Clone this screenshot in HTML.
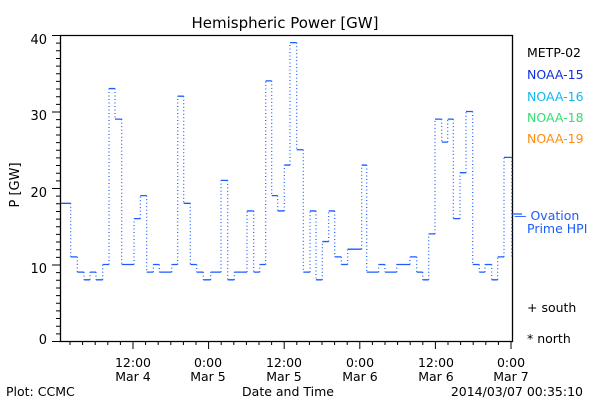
<!DOCTYPE html>
<html><head><style>
body{margin:0;background:#fff;}
svg{display:block;font-family:"DejaVu Sans","Liberation Sans",sans-serif;}
</style></head><body>
<svg width="600" height="400" viewBox="0 0 600 400" xmlns="http://www.w3.org/2000/svg">
<rect width="600" height="400" fill="#fff"/>
<text x="285" y="28" font-size="15" text-anchor="middle" fill="#000">Hemispheric Power [GW]</text>
<path d="M60.5 35.5H512.5V341.5H60.5Z" fill="none" stroke="#000" stroke-width="1.3"/>
<path stroke="#000" stroke-width="1" fill="none" d="M52 341.5H60M56 333.85H60M56 326.2H60M56 318.55H60M56 310.9H60M56 303.25H60M56 295.6H60M56 287.95H60M56 280.3H60M56 272.65H60M52 265H60M56 257.35H60M56 249.7H60M56 242.05H60M56 234.4H60M56 226.75H60M56 219.1H60M56 211.45H60M56 203.8H60M56 196.15H60M52 188.5H60M56 180.85H60M56 173.2H60M56 165.55H60M56 157.9H60M56 150.25H60M56 142.6H60M56 134.95H60M56 127.3H60M56 119.65H60M52 112H60M56 104.35H60M56 96.7H60M56 89.05H60M56 81.4H60M56 73.75H60M56 66.1H60M56 58.45H60M56 50.8H60M56 43.15H60M52 35.5H60"/>
<path stroke="#000" stroke-width="1" fill="none" d="M70 341V345M82.6 341V345M95.2 341V345M107.8 341V345M120.4 341V345M133 341V349M145.6 341V345M158.2 341V345M170.8 341V345M183.4 341V345M196 341V345M208.6 341V349M221.2 341V345M233.8 341V345M246.4 341V345M259 341V345M271.6 341V345M284.2 341V349M296.8 341V345M309.4 341V345M322 341V345M334.6 341V345M347.2 341V345M359.8 341V349M372.4 341V345M385 341V345M397.6 341V345M410.2 341V345M422.8 341V345M435.4 341V349M448 341V345M460.6 341V345M473.2 341V345M485.8 341V345M498.4 341V345M511 341V349"/>
<g font-size="13" fill="#000" text-anchor="end">
<text x="47" y="44">40</text><text x="47" y="120">30</text><text x="47" y="197">20</text><text x="47" y="273">10</text><text x="47" y="344">0</text>
</g>
<text transform="translate(19,185) rotate(-90)" font-size="13" text-anchor="middle">P [GW]</text>
<g font-size="12.5" text-anchor="middle" fill="#000">
<text x="133" y="367">12:00</text><text x="133" y="381">Mar 4</text>
<text x="208" y="367">0:00</text><text x="208" y="381">Mar 5</text>
<text x="284" y="367">12:00</text><text x="284" y="381">Mar 5</text>
<text x="360" y="367">0:00</text><text x="360" y="381">Mar 6</text>
<text x="436" y="367">12:00</text><text x="436" y="381">Mar 6</text>
<text x="511" y="367">0:00</text><text x="511" y="381">Mar 7</text>
<text x="288" y="396">Date and Time</text>
</g>
<text x="6" y="396" font-size="12.5">Plot: CCMC</text>
<text x="583" y="396" font-size="12.5" text-anchor="end">2014/03/07 00:35:10</text>
<g font-size="12.5">
<text x="527" y="57" fill="#000">METP-02</text>
<text x="527" y="79" fill="#1030e0">NOAA-15</text>
<text x="527" y="101" fill="#10b8f0">NOAA-16</text>
<text x="527" y="122" fill="#30e070">NOAA-18</text>
<text x="527" y="143" fill="#ff8c10">NOAA-19</text>
<text x="514" y="220" fill="#1a5cff">— Ovation</text>
<text x="527" y="233" fill="#1a5cff">Prime HPI</text>
<text x="527" y="312" fill="#000">+ south</text>
<text x="527" y="343" fill="#000">* north</text>
</g>
<path stroke="#1a5cff" stroke-width="1.3" fill="none" d="M61 203.3H70.7M70.7 256.85H77.3M77.3 272.15H84M84 279.8H90M90 272.15H96M96 279.8H102.7M102.7 264.5H109M109 88.55H115M115 119.15H121.7M121.7 264.5H134M134 218.6H140.3M140.3 195.65H146.7M146.7 272.15H153.3M153.3 264.5H159.3M159.3 272.15H171.7M171.7 264.5H177.7M177.7 96.2H183.7M183.7 203.3H190.3M190.3 264.5H196.7M196.7 272.15H203.3M203.3 279.8H210.7M210.7 272.15H221M221 180.35H227.7M227.7 279.8H234.3M234.3 272.15H247M247 210.95H253.7M253.7 272.15H259.7M259.7 264.5H265.7M265.7 80.9H271.7M271.7 195.65H277.7M277.7 210.95H284.3M284.3 165.05H290M290 42.65H296.7M296.7 149.75H303.3M303.3 272.15H310M310 210.95H316M316 279.8H322.3M322.3 241.55H328.7M328.7 210.95H334.7M334.7 256.85H341.3M341.3 264.5H347.7M347.7 249.2H361.7M361.7 165.05H366.7M366.7 272.15H378.7M378.7 264.5H385M385 272.15H396.7M396.7 264.5H410M410 256.85H416.7M416.7 272.15H422.7M422.7 279.8H428.7M428.7 233.9H435M435 119.15H441.7M441.7 142.1H447.7M447.7 119.15H453.3M453.3 218.6H460M460 172.7H466M466 111.5H472.7M472.7 264.5H479.3M479.3 272.15H485M485 264.5H491.7M491.7 279.8H497.7M497.7 256.85H504M504 157.4H511.7M512 214H522"/>
<path stroke="#1a5cff" stroke-width="1.2" fill="none" stroke-dasharray="1 2.5" d="M70.7 203.3V256.85M77.3 256.85V272.15M84 272.15V279.8M90 279.8V272.15M96 272.15V279.8M102.7 279.8V264.5M109 264.5V88.55M115 88.55V119.15M121.7 119.15V264.5M134 264.5V218.6M140.3 218.6V195.65M146.7 195.65V272.15M153.3 272.15V264.5M159.3 264.5V272.15M171.7 272.15V264.5M177.7 264.5V96.2M183.7 96.2V203.3M190.3 203.3V264.5M196.7 264.5V272.15M203.3 272.15V279.8M210.7 279.8V272.15M221 272.15V180.35M227.7 180.35V279.8M234.3 279.8V272.15M247 272.15V210.95M253.7 210.95V272.15M259.7 272.15V264.5M265.7 264.5V80.9M271.7 80.9V195.65M277.7 195.65V210.95M284.3 210.95V165.05M290 165.05V42.65M296.7 42.65V149.75M303.3 149.75V272.15M310 272.15V210.95M316 210.95V279.8M322.3 279.8V241.55M328.7 241.55V210.95M334.7 210.95V256.85M341.3 256.85V264.5M347.7 264.5V249.2M361.7 249.2V165.05M366.7 165.05V272.15M378.7 272.15V264.5M385 264.5V272.15M396.7 272.15V264.5M410 264.5V256.85M416.7 256.85V272.15M422.7 272.15V279.8M428.7 279.8V233.9M435 233.9V119.15M441.7 119.15V142.1M447.7 142.1V119.15M453.3 119.15V218.6M460 218.6V172.7M466 172.7V111.5M472.7 111.5V264.5M479.3 264.5V272.15M485 272.15V264.5M491.7 264.5V279.8M497.7 279.8V256.85M504 256.85V157.4M511.7 157.4V256.85"/>
</svg>
</body></html>
